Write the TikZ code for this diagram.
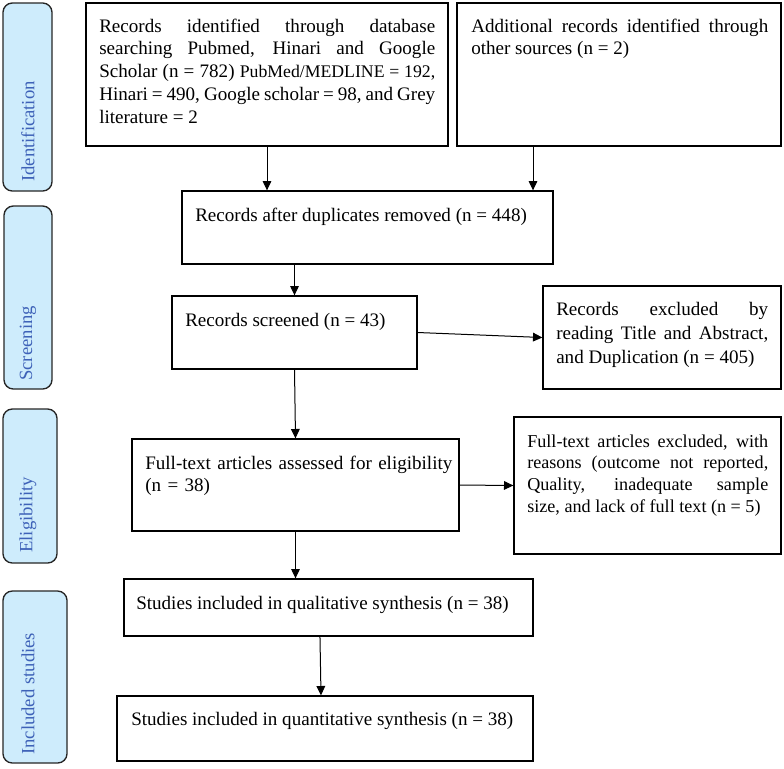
\documentclass[tikz,border=0pt]{standalone}
\usepackage{fontspec}
\setmainfont{Liberation Serif}
\usetikzlibrary{arrows.meta, fit}
\definecolor{stagefill}{RGB}{206,236,252}
\definecolor{stagetext}{RGB}{62,98,184}

\begin{document}
\begin{tikzpicture}[x=0.75pt,y=0.75pt,yscale=-1,xscale=1,
  box/.style={draw, line width=1pt, inner sep=0pt},
  stage/.style={draw=black!85, fill=stagefill, rounded corners=7pt, line width=1pt, inner sep=0pt},
  stagelabel/.style={text=stagetext, rotate=90, anchor=west, inner sep=0pt, font=\fontsize{14}{17}\selectfont},
  txt/.style={anchor=base west, inner sep=0pt, font=\fontsize{14.3}{17.1}\selectfont},
  just/.style={txt, align=justify},
  arr/.style={-{Triangle[length=7pt,width=6.5pt]}, line width=0.75pt}]
\useasboundingbox (0,0) rectangle (784,768);

%Shape: Rounded Rect [stages]
\node[stage, fit={(3,3) (52,191)}] (identstage) {};
\node[stage, fit={(4,206) (52,389)}] (screenstage) {};
\node[stage, fit={(3,409) (57,563)}] (eligstage) {};
\node[stage, fit={(3,591) (67,763)}] (inclstage) {};
% Text Node
\node[stagelabel] (identlbl) at (28,182) {Identification};
\node[stagelabel] (screenlbl) at (28,381) {Screening};
\node[stagelabel] (eliglbl) at (28,553) {Eligibility};
\node[stagelabel] (incllbl) at (28,755) {Included studies};

%Shape: Rectangle [boxes]
\node[box, fit={(86,3) (448,146)}] (recs) {};
\node[box, fit={(457,3) (781,146)}] (other) {};
\node[box, fit={(182,191) (553,264)}] (dup) {};
\node[box, fit={(172,296) (417,369)}] (screened) {};
\node[box, fit={(543,286) (781,389)}] (excl) {};
\node[box, fit={(132,439) (459,531)}] (fulltext) {};
\node[box, fit={(514,417) (781,554)}] (ftexcl) {};
\node[box, fit={(124,579) (533,636)}] (qual) {};
\node[box, fit={(117,696) (533,761)}] (quant) {};

% Text Node
\node[just, text width=252pt] (recstxt) at (99,32) {Records identified through database\linebreak searching Pubmed, Hinari and Google\linebreak Scholar (n = 782) {\fontsize{13.3}{17.1}\selectfont PubMed/MEDLINE = 192,}\linebreak Hinari = 490, Google scholar = 98, and Grey\linebreak literature = 2};
% Text Node
\node[just, text width=222.75pt] (othertxt) at (471,32) {Additional records identified through\linebreak other sources (n = 2)};
% Text Node
\node[txt] (duptxt) at (195,221) {Records after duplicates removed (n = 448)};
% Text Node
\node[txt] (screenedtxt) at (185,326) {Records screened (n = 43)};
% Text Node
\node[just, text width=159pt, font=\fontsize{14.3}{18}\selectfont] (excltxt) at (556,315) {Records excluded by\linebreak reading Title and Abstract,\linebreak and Duplication (n = 405)};
% Text Node
\node[txt, text width=232pt, align=left] (fulltexttxt) at (145,469) {Full-text articles assessed for eligibility\\(n = 38)};
% Text Node
\node[just, text width=180.75pt, font=\fontsize{13.6}{16.3}\selectfont] (ftexcltxt) at (527,447) {Full-text articles excluded, with\linebreak reasons (outcome not reported,\linebreak Quality, inadequate sample\linebreak size, and lack of full text (n = 5)};
% Text Node
\node[txt] (qualtxt) at (136,609) {Studies included in qualitative synthesis (n = 38)};
% Text Node
\node[txt] (quanttxt) at (131,725) {Studies included in quantitative synthesis (n = 38)};

%Straight Lines
\coordinate (otherfoot) at (533,146);
\draw[arr] (recs.south) -- (recs.south |- dup.north);
\draw[arr] (otherfoot) -- (otherfoot |- dup.north);
\draw[arr] (screened.north |- dup.south) -- (screened.north);
\draw[arr] (screened.south) -- (fulltext.north);
\draw[arr] (screened.east) -- (excl.west);
\draw[arr] (fulltext.east) -- (ftexcl.west);
\draw[arr] (fulltext.south) -- (fulltext.south |- qual.north);
\draw[arr] ([xshift=-6.4pt]qual.south) -- ([xshift=-3pt]quant.north);

\end{tikzpicture}
\end{document}
